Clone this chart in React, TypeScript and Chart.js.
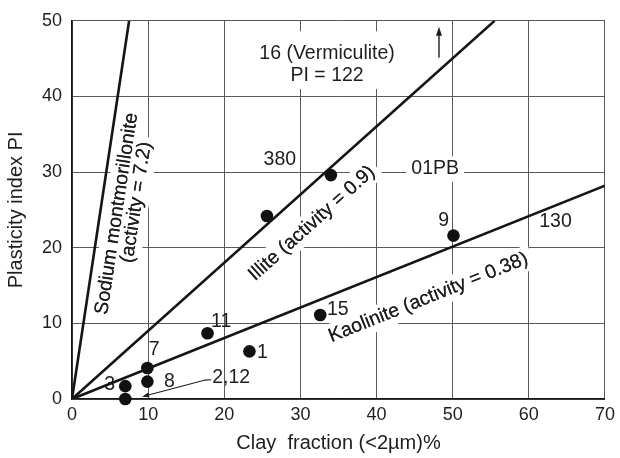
import React, { useEffect, useRef } from 'react';
import { Chart, registerables } from 'chart.js';

Chart.register(...registerables);

// ---- data ----
const xTickValues = [0, 10, 20, 30, 40, 50, 60, 70];
const yTickValues = [0, 10, 20, 30, 40, 50];

// mineral activity lines (start / end points)
const sodiumLine = [{ x: 0, y: 0 }, { x: 7.5, y: 50 }];
const illiteLine = [{ x: 0, y: 0 }, { x: 55.5, y: 50 }];
const kaoliniteLine = [{ x: 0, y: 0 }, { x: 70, y: 28.2 }];

// samples
const sampleX = [7.0, 7.0, 9.9, 9.9, 17.8, 23.3, 32.6, 25.6, 34.0, 50.1];
const sampleY = [1.7, 0.0, 4.1, 2.3, 8.7, 6.3, 11.1, 24.2, 29.6, 21.6];

// plain text labels
const labelTexts = ['3', '7', '8', '2,12', '11', '1', '15', '380', '9', '130', '01PB'];
const labelX = [4.95, 10.8, 12.8, 20.9, 19.6, 25.0, 34.9, 27.3, 48.8, 63.5, 47.7];
const labelY = [1.95, 6.5, 2.3, 2.86, 10.2, 6.1, 11.8, 31.7, 23.6, 23.4, 30.4];
const labelBoxed = [false, false, false, false, false, false, false, false, false, false, true];

// vermiculite note
const noteLines = ['16 (Vermiculite)', 'PI = 122'];
const noteX = [33.5, 33.5];
const noteY = [45.7, 42.7];

// rotated line labels
const lineLabelTexts = ['Sodium montmorillonite', '(activity = 7.2)', 'Illite (activity = 0.9)', 'Kaolinite (activity = 0.38)'];
const lineLabelX = [5.9, 8.45, 31.5, 46.8];
const lineLabelY = [24.5, 26.0, 23.2, 13.4];
const lineLabelLine = [0, 0, 1, 2];

// arrows (path points, arrow head at the last point)
const arrowTo212 = [{ x: 18.3, y: 2.55 }, { x: 17.5, y: 2.5 }, { x: 9.2, y: 0.3 }];
const arrowUp = [{ x: 48.2, y: 45.1 }, { x: 48.2, y: 49.2 }];

const FONT = "'Liberation Sans', Arial, Helvetica, sans-serif";
const TEXT = '#1e1e1e';

const annotPlugin = {
  id: 'annot',
  beforeDatasetsDraw(chart: any) {
    const { ctx } = chart;
    const xs = chart.scales.x;
    const ys = chart.scales.y;
    const px = (v: number) => xs.getPixelForValue(v);
    const py = (v: number) => ys.getPixelForValue(v);
    const lines = [sodiumLine, illiteLine, kaoliniteLine];

    const drawLabel = (text: string, cx: number, cy: number, angle: number, boxed: boolean, size: number) => {
      ctx.save();
      ctx.translate(cx, cy);
      ctx.rotate(angle);
      ctx.font = `${size}px ${FONT}`;
      ctx.textAlign = 'center';
      ctx.textBaseline = 'middle';
      if (boxed) {
        const w = ctx.measureText(text).width;
        ctx.fillStyle = '#ffffff';
        ctx.fillRect(-w / 2 - 5, -size / 2 - 3, w + 10, size + 6);
      }
      ctx.fillStyle = TEXT;
      ctx.fillText(text, 0, 0);
      ctx.restore();
    };

    // vermiculite note box
    ctx.save();
    ctx.font = `19.5px ${FONT}`;
    const wMax = Math.max(...noteLines.map((t) => ctx.measureText(t).width));
    const c0x = px(noteX[0]);
    const top = py(noteY[0]) - 22;
    const bottom = py(noteY[1]) + 13;
    ctx.fillStyle = '#ffffff';
    ctx.fillRect(c0x - wMax / 2 - 6, top, wMax + 12, bottom - top);
    ctx.restore();
    noteLines.forEach((t, i) => drawLabel(t, px(noteX[i]), py(noteY[i]), 0, false, 19.5));

    // rotated line labels
    const angles = lineLabelTexts.map((_, i) => {
      const l = lines[lineLabelLine[i]];
      return Math.atan2(py(l[1].y) - py(l[0].y), px(l[1].x) - px(l[0].x));
    });
    lineLabelTexts.forEach((t, i) => drawLabel(t, px(lineLabelX[i]), py(lineLabelY[i]), angles[i], true, 19.5));
    lineLabelTexts.forEach((t, i) => drawLabel(t, px(lineLabelX[i]), py(lineLabelY[i]), angles[i], false, 19.5));

    // simple labels
    labelTexts.forEach((t, i) => drawLabel(t, px(labelX[i]), py(labelY[i]), 0, labelBoxed[i], 19.5));
  },
  afterDatasetsDraw(chart: any) {
    const { ctx } = chart;
    const xs = chart.scales.x;
    const ys = chart.scales.y;
    const drawArrow = (pts: { x: number; y: number }[], width: number, headLen: number, headW: number) => {
      const p = pts.map((q) => ({ x: xs.getPixelForValue(q.x), y: ys.getPixelForValue(q.y) }));
      ctx.save();
      ctx.strokeStyle = TEXT;
      ctx.fillStyle = TEXT;
      ctx.lineWidth = width;
      const a = p[p.length - 2];
      const b = p[p.length - 1];
      const ang = Math.atan2(b.y - a.y, b.x - a.x);
      ctx.beginPath();
      ctx.moveTo(p[0].x, p[0].y);
      for (let i = 1; i < p.length - 1; i++) ctx.lineTo(p[i].x, p[i].y);
      ctx.lineTo(b.x - Math.cos(ang) * headLen * 0.8, b.y - Math.sin(ang) * headLen * 0.8);
      ctx.stroke();
      ctx.translate(b.x, b.y);
      ctx.rotate(ang);
      ctx.beginPath();
      ctx.moveTo(0, 0);
      ctx.lineTo(-headLen, -headW / 2);
      ctx.lineTo(-headLen, headW / 2);
      ctx.closePath();
      ctx.fill();
      ctx.restore();
    };
    drawArrow(arrowTo212, 1.1, 7, 5);
    drawArrow(arrowUp, 1.4, 9, 6);
  },
};

export default function App() {
  const ref = useRef<HTMLCanvasElement | null>(null);
  useEffect(() => {
    if (!ref.current) return;
    const lineStyle = {
      showLine: true,
      borderColor: '#151515',
      borderWidth: 2.6,
      pointRadius: 0,
      pointHoverRadius: 0,
      fill: false,
    };
    const chart = new Chart(ref.current, {
      type: 'scatter',
      data: {
        datasets: [
          { ...lineStyle, label: 'Sodium montmorillonite', data: sodiumLine },
          { ...lineStyle, label: 'Illite', data: illiteLine },
          { ...lineStyle, label: 'Kaolinite', data: kaoliniteLine },
          {
            label: 'Samples',
            data: sampleX.map((x, i) => ({ x, y: sampleY[i] })),
            pointRadius: 6.3,
            pointBackgroundColor: '#111',
            pointBorderWidth: 0,
            showLine: false,
            clip: false,
          } as any,
        ],
      },
      options: {
        animation: false,
        responsive: false,
        events: [],
        layout: { padding: { top: 14, right: 11, left: 0, bottom: 0 } },
        plugins: { legend: { display: false }, tooltip: { enabled: false } },
        scales: {
          x: {
            type: 'linear',
            min: 0,
            max: 70,
            afterBuildTicks: (s: any) => {
              s.ticks = xTickValues.map((v) => ({ value: v }));
            },
            afterFit: (s: any) => {
              s.height = 59;
            },
            ticks: { font: { family: FONT, size: 18 }, color: TEXT, padding: 5, maxRotation: 0 },
            grid: { color: '#5a5a5a', lineWidth: 1, drawTicks: false, tickLength: 0 },
            border: { color: '#151515', width: 1.6 },
            title: {
              display: true,
              text: 'Clay  fraction (<2\u00b5m)%',
              font: { family: FONT, size: 20 },
              color: TEXT,
              padding: { top: 0, bottom: 3 },
            },
          },
          y: {
            type: 'linear',
            min: 0,
            max: 50,
            afterBuildTicks: (s: any) => {
              s.ticks = yTickValues.map((v) => ({ value: v }));
            },
            afterFit: (s: any) => {
              s.width = 72;
            },
            ticks: { font: { family: FONT, size: 18 }, color: TEXT, padding: 10 },
            grid: { color: '#5a5a5a', lineWidth: 1, drawTicks: false, tickLength: 0 },
            border: { color: '#151515', width: 1.6 },
            title: {
              display: true,
              text: 'Plasticity index PI',
              font: { family: FONT, size: 20 },
              color: TEXT,
              padding: { top: 4, bottom: 0 },
            },
          },
        },
      },
      plugins: [annotPlugin],
    } as any);
    return () => chart.destroy();
  }, []);
  return (
    <div style={{ position: 'fixed', left: 0, top: 0, width: 620, height: 458, background: '#fff' }}>
      <canvas ref={ref} width={620} height={458} style={{ display: 'block' }} />
    </div>
  );
}
